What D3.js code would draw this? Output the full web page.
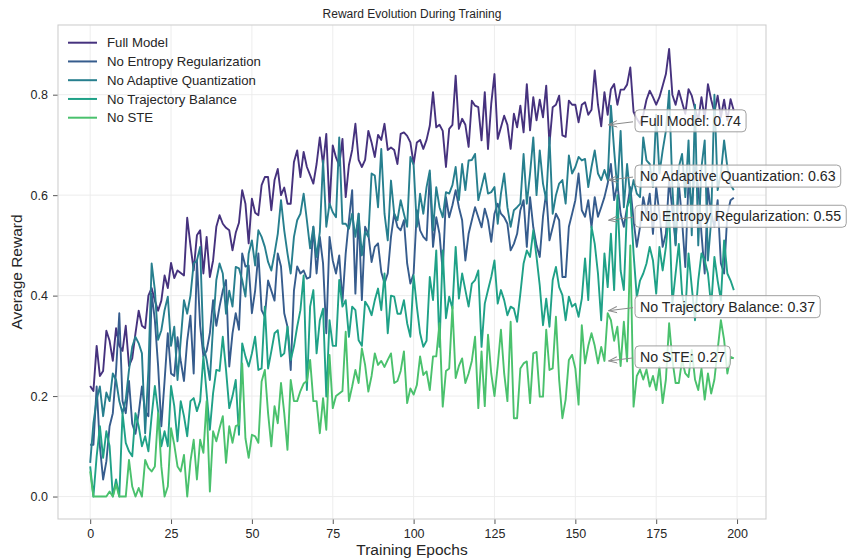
<!DOCTYPE html>
<html>
<head>
<meta charset="utf-8">
<script src="https://cdn.jsdelivr.net/npm/d3@7"></script>
<style>
  body { margin: 0; background: #fff; }
  svg { display: block; }
  text { font-family: "Liberation Sans", Arial, Helvetica, sans-serif; fill: #262626; }
</style>
</head>
<body>
<svg id="chart" width="850" height="560"></svg>
<script>
// ---- data -------------------------------------------------------------
const epochs = d3.range(200);

const seriesNames = [
  "Full Model",
  "No Entropy Regularization",
  "No Adaptive Quantization",
  "No Trajectory Balance",
  "No STE"
];

const fullModel = [
  .22,.21,.30,.24,.25,.33,.31,.27,.335,.30,
  .29,.34,.26,.275,.325,.37,.34,.335,.40,.415,
  .39,.37,.39,.44,.415,.465,.435,.45,.445,.44,
  .555,.50,.45,.52,.53,.444,.517,.437,.47,.537,
  .56,.543,.535,.53,.49,.525,.545,.61,.583,.504,
  .593,.565,.56,.62,.636,.636,.57,.63,.652,.60,
  .615,.583,.583,.666,.689,.636,.686,.656,.64,.623,
  .662,.715,.66,.722,.576,.699,.675,.659,.712,.596,
  .66,.69,.742,.67,.656,.67,.728,.705,.676,.72,
  .71,.742,.69,.695,.69,.662,.722,.725,.718,.705,
  .662,.705,.71,.692,.71,.738,.805,.735,.74,.728,
  .656,.732,.74,.838,.732,.752,.74,.696,.788,.778,
  .775,.709,.805,.692,.782,.841,.712,.735,.758,.74,
  .692,.762,.735,.778,.725,.821,.729,.795,.749,.79,
  .755,.818,.702,.775,.78,.798,.719,.716,.788,.78,
  .78,.745,.78,.785,.76,.77,.848,.78,.737,.805,
  .76,.811,.821,.78,.81,.81,.82,.854,.766,.752,
  .742,.76,.79,.808,.795,.78,.795,.818,.841,.891,
  .80,.78,.808,.785,.762,.811,.798,.772,.749,.795,
  .752,.821,.79,.765,.798,.755,.79,.749,.791,.768
];

const noEntropy = [
  .103,.103,.219,.10,.034,.07,.14,.166,.25,.365,
  .19,.166,.23,.145,.125,.166,.219,.17,.16,.404,
  .351,.26,.14,.23,.325,.245,.24,.317,.27,.23,
  .31,.36,.245,.47,.34,.279,.29,.325,.391,.34,
  .378,.41,.431,.259,.325,.365,.332,.484,.458,.46,
  .365,.41,.484,.371,.358,.43,.41,.39,.484,.458,
  .365,.338,.252,.41,.458,.444,.45,.434,.437,.537,
  .444,.517,.464,.325,.517,.47,.444,.48,.388,.484,
  .55,.61,.404,.563,.391,.537,.523,.467,.497,.504,
  .447,.424,.444,.517,.563,.537,.53,.55,.464,.424,
  .444,.57,.53,.517,.51,.643,.497,.556,.523,.447,
  .596,.556,.58,.61,.576,.55,.47,.523,.55,.576,
  .556,.536,.573,.55,.507,.563,.583,.563,.556,.543,
  .49,.503,.523,.57,.59,.497,.596,.536,.50,.477,
  .557,.606,.51,.536,.563,.55,.437,.437,.537,.563,
  .59,.643,.57,.557,.59,.536,.596,.557,.576,.596,
  .623,.662,.59,.623,.563,.537,.576,.616,.55,.497,
  .537,.596,.563,.603,.523,.616,.563,.497,.523,.63,
  .57,.503,.623,.55,.457,.63,.576,.656,.616,.523,
  .444,.616,.563,.537,.59,.464,.444,.563,.59,.595
];

const noAdaptive = [
  .067,.146,.193,.219,.16,.207,.19,.245,.232,.19,
  .166,.193,.252,.298,.318,.305,.285,.126,.252,.464,
  .411,.312,.331,.371,.398,.30,.338,.232,.312,.391,
  .364,.40,.464,.47,.497,.30,.272,.232,.338,.431,
  .464,.444,.364,.41,.378,.457,.454,.431,.398,.484,
  .51,.46,.53,.517,.497,.467,.45,.484,.523,.59,
  .53,.484,.444,.517,.55,.563,.603,.55,.494,.537,
  .477,.527,.669,.537,.583,.566,.556,.715,.543,.543,
  .533,.563,.517,.563,.48,.527,.517,.643,.639,.576,
  .692,.563,.51,.629,.563,.55,.59,.563,.537,.676,
  .66,.537,.603,.563,.616,.649,.53,.616,.576,.556,
  .606,.603,.62,.656,.59,.662,.61,.669,.67,.682,
  .59,.616,.643,.603,.606,.616,.543,.603,.643,.576,
  .537,.57,.576,.583,.682,.583,.643,.715,.60,.689,
  .623,.59,.715,.563,.60,.623,.63,.583,.679,.643,
  .656,.676,.669,.672,.616,.656,.689,.643,.63,.65,
  .63,.778,.689,.61,.728,.576,.662,.596,.63,.603,
  .596,.715,.669,.662,.616,.76,.643,.689,.728,.808,
  .616,.50,.656,.682,.596,.709,.52,.78,.50,.656,
  .709,.47,.55,.80,.61,.643,.709,.656,.62,.61
];

const noTrajectory = [
  .06,0,.08,.14,.077,.13,.10,0,.034,0,
  .166,.107,.09,.08,.166,.14,.10,.12,.09,.16,
  .22,.17,.10,.13,.10,.22,.18,.11,.19,.16,
  .12,.19,.196,.17,.19,.279,.206,.133,.206,.252,
  .25,.318,.252,.176,.20,.232,.123,.305,.279,.259,
  .285,.318,.252,.255,.378,.255,.289,.325,.331,.279,
  .285,.338,.272,.299,.338,.371,.44,.212,.378,.411,
  .285,.351,.374,.199,.351,.30,.30,.431,.378,.391,
  .318,.378,.371,.311,.30,.388,.378,.361,.391,.414,
  .371,.444,.325,.40,.398,.364,.364,.391,.345,.318,
  .44,.378,.325,.298,.31,.437,.391,.49,.298,.49,
  .355,.398,.374,.497,.394,.444,.411,.378,.424,.431,
  .45,.298,.384,.411,.437,.47,.384,.411,.391,.361,
  .378,.374,.348,.404,.464,.49,.477,.53,.477,.42,
  .341,.394,.338,.431,.457,.417,.401,.351,.398,.378,
  .384,.358,.394,.474,.391,.537,.503,.444,.351,.484,
  .417,.523,.411,.60,.45,.411,.576,.596,.484,.397,
  .43,.444,.464,.497,.47,.404,.497,.45,.497,.57,
  .384,.444,.503,.404,.365,.484,.417,.351,.43,.484,
  .47,.444,.378,.477,.43,.391,.51,.444,.43,.411
];

const noSTE = [
  .05,0,0,0,0,0,.01,0,.024,0,
  0,0,.073,.02,0,.017,0,.073,.057,.05,
  .06,.166,.06,0,.02,.136,.103,.06,.05,.083,
  0,.07,.113,.034,.113,.087,.19,.01,.13,.11,
  .136,.16,.067,.14,.107,.14,.143,.265,.116,.077,
  .123,.12,.107,.229,.252,.166,.10,.18,.146,.226,
  .166,.093,.232,.19,.19,.21,.225,.23,.272,.19,
  .19,.126,.196,.133,.282,.176,.20,.205,.21,.328,
  .19,.219,.252,.226,.295,.262,.209,.24,.285,.262,
  .27,.258,.272,.285,.226,.23,.25,.289,.186,.215,
  .203,.222,.279,.242,.249,.212,.279,.279,.345,.179,
  .25,.255,.378,.236,.26,.275,.226,.245,.27,.318,
  .176,.289,.18,.322,.245,.20,.26,.332,.245,.19,
  .348,.156,.156,.255,.265,.269,.186,.285,.288,.199,
  .199,.332,.252,.255,.358,.232,.156,.193,.272,.282,
  .255,.183,.341,.265,.30,.325,.30,.265,.298,.27,
  .365,.351,.31,.338,.26,.348,.269,.50,.179,.24,
  .253,.233,.253,.219,.24,.212,.258,.186,.233,.345,
  .272,.226,.226,.272,.245,.238,.292,.233,.212,.255,
  .193,.245,.205,.233,.292,.351,.312,.245,.278,.275
];

// reported final rewards (annotated on the right)
const finalRewards = [0.74, 0.55, 0.63, 0.37, 0.27];

const seriesColors = ["#46327e", "#365c8d", "#277f8e", "#1fa187", "#4ac16d"];

const xTicks = [0, 25, 50, 75, 100, 125, 150, 175, 200];
const yTicks = [0.0, 0.2, 0.4, 0.6, 0.8];

const allSeries = [fullModel, noEntropy, noAdaptive, noTrajectory, noSTE];

// ---- layout -----------------------------------------------------------
const plot = { left: 58, right: 766, top: 25, bottom: 519 };
const fontStack = '"Liberation Sans", Arial, Helvetica, sans-serif';

const svg = d3.select("#chart");

const x = d3.scaleLinear().domain([-9.95, 208.95]).range([plot.left, plot.right]);
const y = d3.scaleLinear().domain([-0.0447, 0.9387]).range([plot.bottom, plot.top]);

// grid
const grid = svg.append("g").attr("class", "grid");
grid.selectAll("line.gx").data(xTicks).join("line")
  .attr("x1", d => x(d)).attr("x2", d => x(d))
  .attr("y1", plot.top).attr("y2", plot.bottom)
  .attr("stroke", "#ebebeb").attr("stroke-width", 0.9);
grid.selectAll("line.gy").data(yTicks).join("line")
  .attr("x1", plot.left).attr("x2", plot.right)
  .attr("y1", d => y(d)).attr("y2", d => y(d))
  .attr("stroke", "#ebebeb").attr("stroke-width", 0.9);

// axes
const xAxis = d3.axisBottom(x).tickValues(xTicks).tickFormat(d3.format("d"))
  .tickSize(5).tickPadding(5).tickSizeOuter(0);
const yAxis = d3.axisLeft(y).tickValues(yTicks).tickFormat(d3.format(".1f"))
  .tickSize(5).tickPadding(5).tickSizeOuter(0);

const gx = svg.append("g").attr("transform", `translate(0,${plot.bottom})`).call(xAxis);
const gy = svg.append("g").attr("transform", `translate(${plot.left},0)`).call(yAxis);
[gx, gy].forEach(g => {
  g.select(".domain").remove();
  g.selectAll(".tick line").attr("stroke", "#444").attr("stroke-width", 0.9);
  g.selectAll(".tick text").attr("fill", "#262626")
    .style("font-family", fontStack).style("font-size", "12.5px");
});

// series lines
const line = d3.line().x((d, i) => x(epochs[i])).y(d => y(d));
const lines = svg.append("g").attr("class", "series");
allSeries.forEach((s, k) => {
  lines.append("path")
    .datum(s)
    .attr("d", line)
    .attr("fill", "none")
    .attr("stroke", seriesColors[k])
    .attr("stroke-width", 1.9)
    .attr("stroke-linejoin", "round")
    .attr("stroke-linecap", "butt");
});

// frame
svg.append("rect")
  .attr("x", plot.left).attr("y", plot.top)
  .attr("width", plot.right - plot.left).attr("height", plot.bottom - plot.top)
  .attr("fill", "none").attr("stroke", "#cfcfcf").attr("stroke-width", 1.1);

// legend
const legend = svg.append("g").attr("class", "legend");
seriesNames.forEach((name, k) => {
  const ly = 42.7 + k * 18.75;
  legend.append("line")
    .attr("x1", 68).attr("x2", 97).attr("y1", ly).attr("y2", ly)
    .attr("stroke", seriesColors[k]).attr("stroke-width", 2);
  legend.append("text")
    .attr("x", 107).attr("y", ly).attr("dy", "0.35em")
    .style("font-size", "13.2px")
    .text(name);
});

// arrow head marker
const defs = svg.append("defs");
defs.append("marker")
  .attr("id", "arrowHead")
  .attr("viewBox", "0 0 10 10")
  .attr("refX", 9.5).attr("refY", 5)
  .attr("markerWidth", 9).attr("markerHeight", 9)
  .attr("markerUnits", "userSpaceOnUse")
  .attr("orient", "auto")
  .append("path")
  .attr("d", "M0,1.5 L9.5,5 L0,8.5")
  .attr("fill", "none").attr("stroke", "#8a8a8a").attr("stroke-width", 1.1);

// final-reward annotations
const notes = svg.append("g").attr("class", "notes");
finalRewards.forEach((v, k) => {
  const px = x(160), py = y(v);
  const tx = x(170);
  const cy = py - 4;
  const g = notes.append("g");
  const t = g.append("text")
    .attr("x", tx).attr("y", cy).attr("dy", "0.35em")
    .style("font-size", "14.2px")
    .text(`${seriesNames[k]}: ${v.toFixed(2)}`);
  const bb = t.node().getBBox();
  const padX = 5, h = 22;
  const bx = tx - padX;
  g.insert("rect", "text")
    .attr("x", bx).attr("y", cy - h / 2)
    .attr("width", bb.width + 2 * padX).attr("height", h)
    .attr("rx", 4).attr("ry", 4)
    .attr("fill", "#fff").attr("fill-opacity", 0.8)
    .attr("stroke", "#a0a0a0").attr("stroke-width", 1);
  g.insert("line", "rect")
    .attr("x1", bx - 2).attr("y1", cy + 1)
    .attr("x2", px + 1).attr("y2", py)
    .attr("stroke", "#8a8a8a").attr("stroke-width", 1)
    .attr("marker-end", "url(#arrowHead)");
});

// titles
svg.append("text")
  .attr("x", (plot.left + plot.right) / 2).attr("y", 18)
  .attr("text-anchor", "middle")
  .style("font-size", "12px")
  .text("Reward Evolution During Training");

svg.append("text")
  .attr("x", (plot.left + plot.right) / 2).attr("y", 555)
  .attr("text-anchor", "middle")
  .style("font-size", "15.5px")
  .text("Training Epochs");

svg.append("text")
  .attr("transform", `translate(22,${(plot.top + plot.bottom) / 2}) rotate(-90)`)
  .attr("text-anchor", "middle")
  .style("font-size", "15.5px")
  .text("Average Reward");
</script>
</body>
</html>
